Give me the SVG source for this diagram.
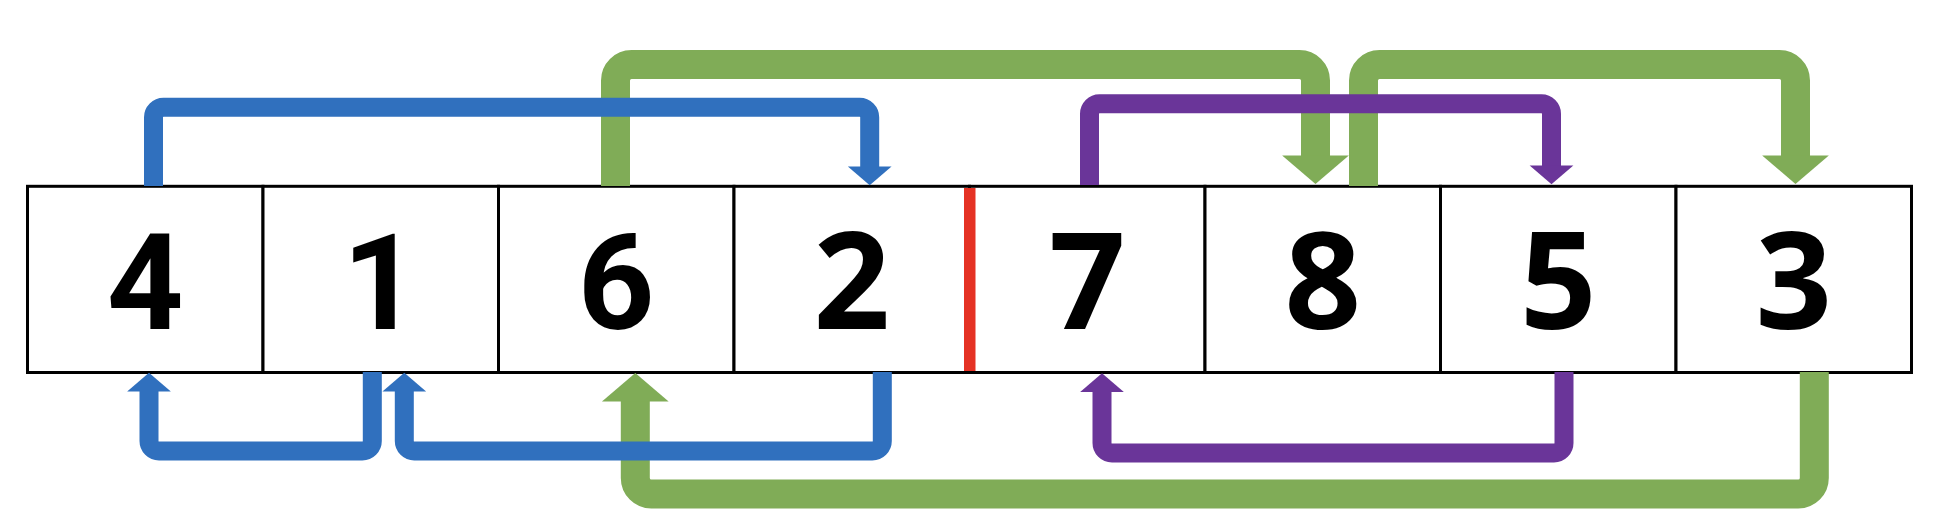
<svg xmlns="http://www.w3.org/2000/svg" width="1942" height="530" viewBox="0 0 1942 530">
<style>
.cell{fill:#FFFFFF;stroke:#000000;stroke-width:3}
.ln{fill:none;stroke-linejoin:miter;stroke-linecap:butt}
.blue{stroke:#3070BE;stroke-width:19}
.purple{stroke:#6A3599;stroke-width:19}
.green{stroke:#80AC57;stroke-width:29}
</style>
<defs>
<marker id="hb" markerUnits="strokeWidth" markerWidth="1" markerHeight="2.3" viewBox="-0.05 -1.15 1 2.3" refX="0" refY="0" orient="auto" overflow="visible"><path d="M-0.05,-1.15 L0.93,0 L-0.05,1.15 Z" fill="#3070BE"/></marker>
<marker id="hp" markerUnits="strokeWidth" markerWidth="1" markerHeight="2.3" viewBox="-0.05 -1.15 1 2.3" refX="0" refY="0" orient="auto" overflow="visible"><path d="M-0.05,-1.15 L0.93,0 L-0.05,1.15 Z" fill="#6A3599"/></marker>
<marker id="hg" markerUnits="strokeWidth" markerWidth="1" markerHeight="2.3" viewBox="-0.05 -1.15 1 2.3" refX="0" refY="0" orient="auto" overflow="visible"><path d="M-0.05,-1.15 L0.93,0 L-0.05,1.15 Z" fill="#80AC57"/></marker>
</defs>
<g font-size="134" font-weight="700" text-anchor="middle" fill="#000000">
<g id="cell-4"><rect class="cell" x="27.5" y="186.3" width="235.5" height="186.2"/><text font-family="Roboto, Arial, sans-serif" x="145.3" y="329">4</text></g>
<g id="cell-1"><rect class="cell" x="263" y="186.3" width="235.5" height="186.2"/><text font-family="Roboto, Arial, sans-serif" x="380.8" y="329">1</text></g>
<g id="cell-6"><rect class="cell" x="498.5" y="186.3" width="235.5" height="186.2"/><text font-family="Roboto, Arial, sans-serif" x="616.3" y="329">6</text></g>
<g id="cell-2"><rect class="cell" x="734" y="186.3" width="235.5" height="186.2"/><text font-family="Noto Sans, sans-serif" x="851.8" y="329">2</text></g>
<g id="cell-7"><rect class="cell" x="969.5" y="186.3" width="235.5" height="186.2"/><text font-family="Noto Sans, sans-serif" x="1087.3" y="329">7</text></g>
<g id="cell-8"><rect class="cell" x="1205" y="186.3" width="235.5" height="186.2"/><text font-family="Noto Sans, sans-serif" x="1322.8" y="329">8</text></g>
<g id="cell-5"><rect class="cell" x="1440.5" y="186.3" width="235.5" height="186.2"/><text font-family="Noto Sans, sans-serif" x="1558.3" y="329">5</text></g>
<g id="cell-3"><rect class="cell" x="1676" y="186.3" width="235.5" height="186.2"/><text font-family="Noto Sans, sans-serif" x="1793.8" y="329">3</text></g>
</g>
<g id="divider"><rect x="964" y="188" width="11.5" height="183" fill="#E53224"/></g>
<g id="connectors">
<path class="ln green" marker-end="url(#hg)" d="M615.5 186 V80.5 A16 16 0 0 1 631.5 64.5 H1299.5 A16 16 0 0 1 1315.5 80.5 V157"/>
<path class="ln green" marker-end="url(#hg)" d="M1363.5 186 V80.5 A16 16 0 0 1 1379.5 64.5 H1779.5 A16 16 0 0 1 1795.5 80.5 V157"/>
<path class="ln green" marker-end="url(#hg)" d="M1814.3 372 V478 A16 16 0 0 1 1798.3 494 H651.3 A16 16 0 0 1 635.3 478 V400"/>
<path class="ln blue" marker-end="url(#hb)" d="M153.5 186 V117.2 A10 10 0 0 1 163.5 107.2 H859.7 A10 10 0 0 1 869.7 117.2 V167.5"/>
<path class="ln purple" marker-end="url(#hp)" d="M1089.5 185 V113.8 A10 10 0 0 1 1099.5 103.8 H1541.5 A10 10 0 0 1 1551.5 113.8 V166.5"/>
<path class="ln blue" marker-end="url(#hb)" d="M372.3 372 V441 A10 10 0 0 1 362.3 451 H159 A10 10 0 0 1 149 441 V390.5"/>
<path class="ln blue" marker-end="url(#hb)" d="M882.3 372 V441 A10 10 0 0 1 872.3 451 H414.3 A10 10 0 0 1 404.3 441 V390.5"/>
<path class="ln purple" marker-end="url(#hp)" d="M1564 372 V443 A10 10 0 0 1 1554 453 H1112 A10 10 0 0 1 1102 443 V391"/>
</g>
</svg>
